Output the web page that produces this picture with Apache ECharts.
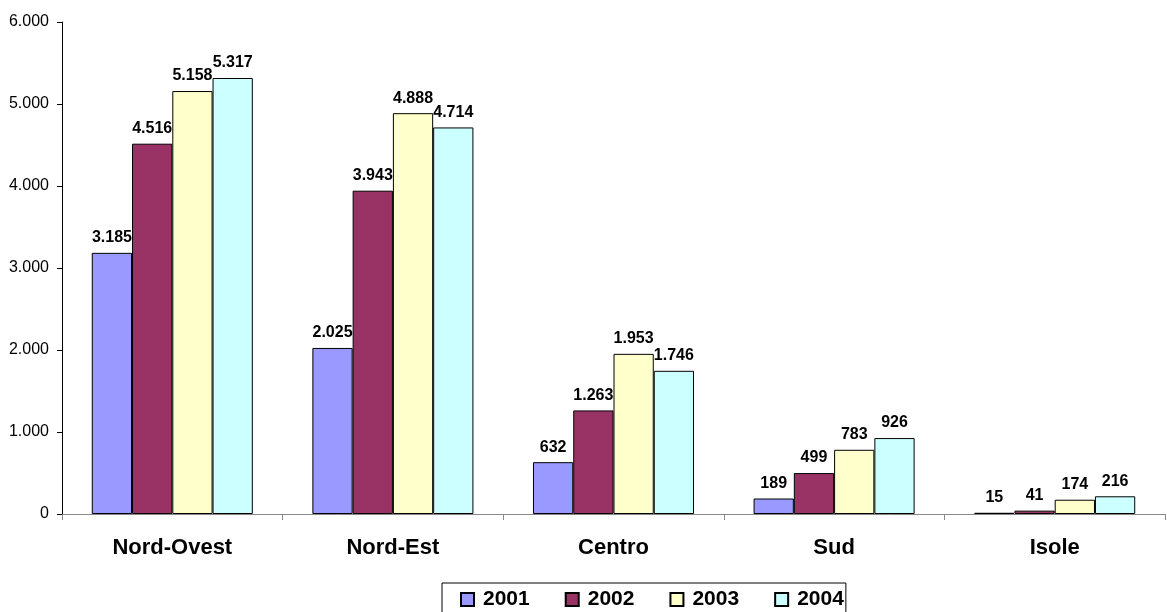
<!DOCTYPE html>
<html><head><meta charset="utf-8">
<script src="https://cdn.jsdelivr.net/npm/echarts@6/dist/echarts.min.js"></script>
<style>html,body{margin:0;padding:0;background:#fff}#c{width:1167px;height:612px}</style>
</head><body><div id="c"></div>
<script>
const categories = ['Nord-Ovest','Nord-Est','Centro','Sud','Isole'];
const years = ['2001','2002','2003','2004'];
const v2001 = [3185, 2025, 632, 189, 15];
const v2002 = [4516, 3943, 1263, 499, 41];
const v2003 = [5158, 4888, 1953, 783, 174];
const v2004 = [5317, 4714, 1746, 926, 216];
const yTicks = [0, 1000, 2000, 3000, 4000, 5000, 6000];
const colors = ['#9999FF','#993366','#FFFFCC','#CCFFFF'];
const fmt = n => String(n).replace(/\B(?=(\d{3})+(?!\d))/g, '.');
const ff = '"Liberation Sans", Arial, sans-serif';
const chart = echarts.init(document.getElementById('c'));
const data = [v2001, v2002, v2003, v2004];
chart.setOption({
  animation: false,
  textStyle: {fontFamily: ff},
  grid: {left: 62, right: 2, top: 22, bottom: 98, containLabel: false},
  legend: {
    top: 583, left: 442,
    data: years,
    itemWidth: 13, itemHeight: 13, itemGap: 35,
    padding: [6, 2, 10, 18],
    borderColor: '#000', borderWidth: 1,
    textStyle: {fontSize: 21, fontWeight: 'bold', color: '#000', fontFamily: ff, padding: [0,0,0,4]},
    icon: 'rect'
  },
  xAxis: {
    type: 'category', data: categories,
    axisLine: {lineStyle: {color: '#888', width: 1}},
    axisTick: {show: true, length: 6, lineStyle: {color: '#888'}},
    axisLabel: {fontSize: 22, fontWeight: 'bold', color: '#000', margin: 23, fontFamily: ff}
  },
  yAxis: {
    type: 'value', min: 0, max: 6000, interval: 1000,
    axisLine: {show: true, lineStyle: {color: '#000'}},
    axisTick: {show: true, length: 5, lineStyle: {color: '#000'}},
    splitLine: {show: false},
    axisLabel: {fontSize: 16, color: '#000', margin: 13, fontFamily: ff, formatter: v => yTicks.includes(v) ? fmt(v) : ''}
  },
  series: years.map((y, i) => ({
    name: y, type: 'bar', data: data[i],
    barGap: '0%', barCategoryGap: '27%',
    itemStyle: {color: colors[i], borderColor: '#000', borderWidth: 1},
    label: {show: true, position: 'top', distance: 7, fontSize: 16, fontWeight: 'bold', color: '#000', fontFamily: ff, formatter: p => fmt(p.value)}
  }))
});
</script></body></html>
